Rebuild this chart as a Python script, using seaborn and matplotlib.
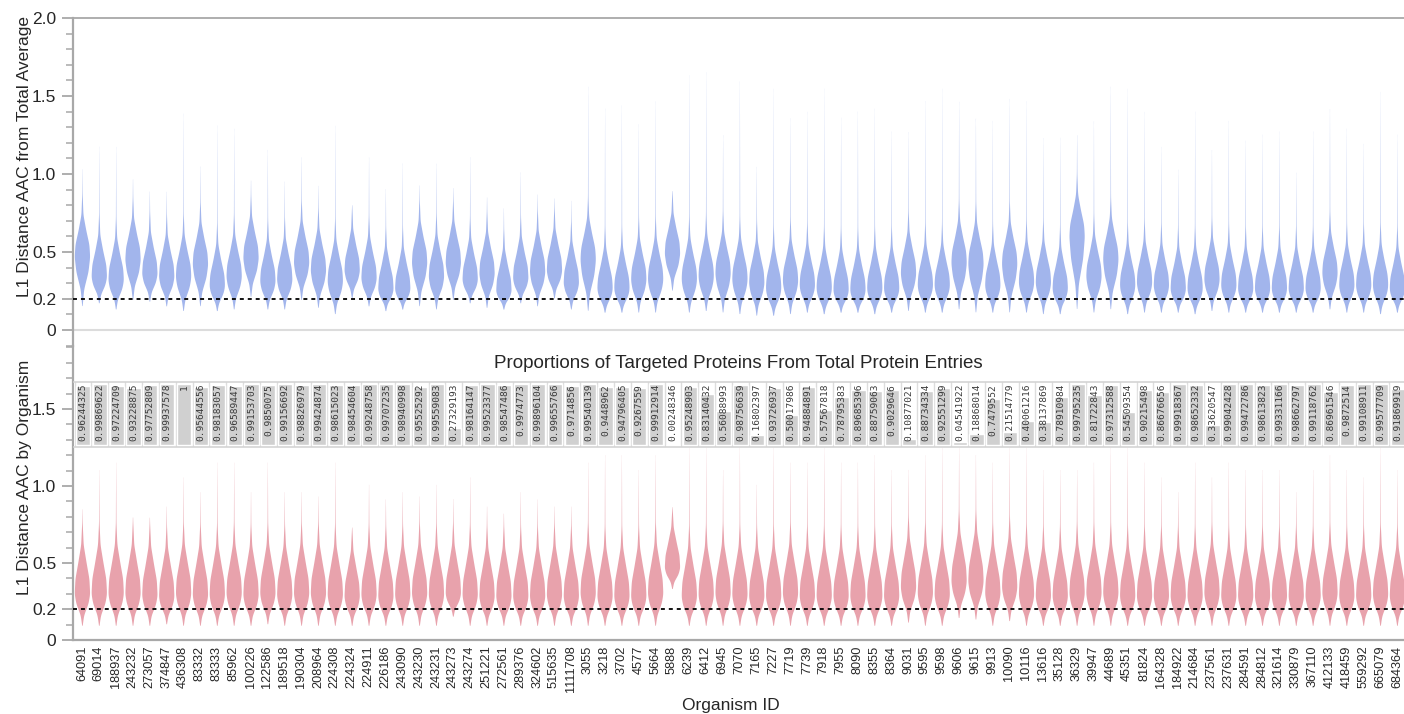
import matplotlib
matplotlib.use("Agg")
import numpy as np
import pandas as pd
import seaborn as sns
import matplotlib.pyplot as plt

# ---------------- data ----------------
organisms = ["64091", "69014", "188937", "243232", "273057", "374847", "436308", "83332", "83333", "85962",
             "100226", "122586", "189518", "190304", "208964", "224308", "224324", "224911", "226186", "243090",
             "243230", "243231", "243273", "243274", "251221", "272561", "289376", "324602", "515635", "1111708",
             "3055", "3218", "3702", "4577", "5664", "5888", "6239", "6412", "6945", "7070",
             "7165", "7227", "7719", "7739", "7918", "7955", "8090", "8355", "8364", "9031",
             "9595", "9598", "9606", "9615", "9913", "10090", "10116", "13616", "35128", "36329",
             "39947", "44689", "45351", "81824", "164328", "184922", "214684", "237561", "237631", "284591",
             "284812", "321614", "330879", "367110", "412133", "418459", "559292", "665079", "684364"]

proportions = [0.96244325, 0.99869622, 0.97224709, 0.93228875, 0.97752809, 0.99937578, 1.0, 0.95644556, 0.98183057, 0.96589447,
               0.99153703, 0.9850075, 0.99156692, 0.98826979, 0.99424874, 0.98615023, 0.98454604, 0.99248758, 0.99707235, 0.98940998,
               0.95525292, 0.99559083, 0.27329193, 0.98164147, 0.99523377, 0.98547486, 0.9974773, 0.99896104, 0.99655766, 0.9714856,
               0.99540139, 0.9448962, 0.94796405, 0.9267559, 0.99912914, 0.00248346, 0.95248903, 0.83140432, 0.56088993, 0.98756639,
               0.16802397, 0.93726937, 0.50017986, 0.94884891, 0.57567818, 0.78795383, 0.89685396, 0.88759063, 0.9029646, 0.10877021,
               0.88734334, 0.92551299, 0.04541922, 0.18868014, 0.7479552, 0.21514779, 0.40061216, 0.38137869, 0.78910984, 0.99795235,
               0.81722843, 0.97312588, 0.54509354, 0.90215498, 0.86676656, 0.99918367, 0.98652332, 0.33620547, 0.99042428, 0.99472786,
               0.98613823, 0.99331166, 0.98662797, 0.99118762, 0.86961546, 0.9872514, 0.99108911, 0.99577709, 0.91869919]

# distance from total average (top panel): widest point, lower tip, upper tip
top_mode = [0.47, 0.34, 0.32, 0.45, 0.36, 0.34, 0.34, 0.42, 0.28, 0.34,
            0.46, 0.31, 0.32, 0.43, 0.38, 0.31, 0.38, 0.33, 0.26, 0.26,
            0.43, 0.34, 0.43, 0.32, 0.36, 0.25, 0.33, 0.37, 0.38, 0.30,
            0.45, 0.26, 0.26, 0.32, 0.32, 0.49, 0.32, 0.34, 0.36, 0.32,
            0.30, 0.26, 0.31, 0.28, 0.26, 0.25, 0.25, 0.26, 0.26, 0.36,
            0.28, 0.28, 0.43, 0.42, 0.28, 0.42, 0.30, 0.30, 0.26, 0.60,
            0.34, 0.45, 0.28, 0.30, 0.28, 0.26, 0.26, 0.32, 0.28, 0.26,
            0.26, 0.26, 0.26, 0.26, 0.36, 0.28, 0.28, 0.28, 0.26]
top_low = [0.15, 0.17, 0.13, 0.19, 0.18, 0.15, 0.12, 0.15, 0.12, 0.13,
           0.21, 0.13, 0.13, 0.19, 0.14, 0.10, 0.20, 0.15, 0.12, 0.13,
           0.15, 0.13, 0.19, 0.17, 0.14, 0.13, 0.17, 0.15, 0.20, 0.13,
           0.12, 0.11, 0.11, 0.11, 0.11, 0.25, 0.11, 0.12, 0.11, 0.10,
           0.09, 0.09, 0.10, 0.11, 0.10, 0.11, 0.11, 0.10, 0.11, 0.12,
           0.11, 0.11, 0.13, 0.11, 0.11, 0.11, 0.11, 0.10, 0.10, 0.13,
           0.11, 0.13, 0.10, 0.11, 0.11, 0.11, 0.10, 0.12, 0.11, 0.11,
           0.11, 0.11, 0.11, 0.11, 0.13, 0.11, 0.11, 0.10, 0.11]
top_high = [1.07, 1.22, 1.22, 1.00, 0.92, 0.92, 1.44, 1.09, 1.36, 1.34,
            0.99, 1.20, 0.99, 1.15, 0.96, 1.36, 0.82, 1.15, 0.94, 1.11,
            0.96, 1.11, 0.94, 1.15, 0.88, 0.81, 1.05, 0.90, 0.87, 0.86,
            1.62, 1.47, 1.49, 1.37, 1.52, 0.91, 1.69, 1.71, 1.30, 1.65,
            1.09, 1.60, 1.41, 1.45, 1.60, 1.41, 1.45, 1.47, 1.32, 1.32,
            1.52, 1.60, 1.52, 1.41, 1.39, 1.54, 1.52, 1.28, 1.28, 1.30,
            1.39, 1.62, 1.60, 1.45, 1.22, 1.07, 1.45, 1.20, 1.39, 1.26,
            1.30, 1.32, 1.05, 1.32, 1.47, 1.34, 1.24, 1.58, 1.30]

# distance by organism (bottom panel)
bot_mode = [0.30, 0.30, 0.30, 0.30, 0.29, 0.28, 0.30, 0.29, 0.29, 0.30,
            0.29, 0.30, 0.29, 0.30, 0.30, 0.29, 0.28, 0.29, 0.28, 0.29,
            0.30, 0.29, 0.30, 0.29, 0.28, 0.28, 0.28, 0.28, 0.29, 0.28,
            0.30, 0.28, 0.28, 0.28, 0.30, 0.47, 0.28, 0.29, 0.30, 0.29,
            0.28, 0.28, 0.30, 0.28, 0.28, 0.28, 0.28, 0.28, 0.28, 0.34,
            0.30, 0.29, 0.38, 0.38, 0.30, 0.34, 0.29, 0.28, 0.28, 0.30,
            0.30, 0.30, 0.28, 0.28, 0.28, 0.28, 0.28, 0.30, 0.28, 0.28,
            0.28, 0.28, 0.28, 0.28, 0.30, 0.28, 0.28, 0.29, 0.28]
bot_low = [0.09, 0.09, 0.09, 0.09, 0.09, 0.10, 0.09, 0.09, 0.09, 0.09,
           0.09, 0.10, 0.09, 0.09, 0.09, 0.09, 0.09, 0.09, 0.09, 0.09,
           0.09, 0.09, 0.15, 0.09, 0.09, 0.09, 0.09, 0.09, 0.09, 0.09,
           0.09, 0.09, 0.09, 0.09, 0.09, 0.33, 0.09, 0.09, 0.09, 0.09,
           0.09, 0.09, 0.09, 0.09, 0.09, 0.09, 0.09, 0.09, 0.09, 0.11,
           0.09, 0.09, 0.14, 0.13, 0.09, 0.12, 0.09, 0.09, 0.09, 0.09,
           0.09, 0.09, 0.09, 0.09, 0.09, 0.09, 0.09, 0.09, 0.09, 0.09,
           0.09, 0.09, 0.09, 0.09, 0.09, 0.09, 0.09, 0.09, 0.09]
bot_high = [0.88, 1.15, 1.20, 0.82, 0.82, 0.90, 1.10, 1.00, 1.20, 1.20,
            1.00, 1.20, 1.00, 1.00, 0.97, 1.20, 0.75, 1.05, 0.95, 1.00,
            0.97, 1.05, 0.95, 1.10, 0.90, 0.85, 1.00, 0.95, 0.90, 0.90,
            1.20, 1.25, 1.25, 1.15, 1.25, 0.88, 1.30, 1.30, 1.15, 1.30,
            1.05, 1.30, 1.20, 1.20, 1.30, 1.20, 1.20, 1.25, 1.15, 1.15,
            1.25, 1.30, 1.30, 1.25, 1.20, 1.30, 1.30, 1.15, 1.15, 1.15,
            1.20, 1.30, 1.30, 1.20, 1.10, 1.00, 1.20, 1.10, 1.20, 1.15,
            1.15, 1.15, 1.00, 1.15, 1.25, 1.15, 1.10, 1.30, 1.15]

title = "Proportions of Targeted Proteins From Total Protein Entries"
top_ylabel = "L1 Distance AAC from Total Average"
bot_ylabel = "L1 Distance AAC by Organism"
xlabel = "Organism ID"

BLUE = "#a2b5ec"
PINK = "#e8a2ac"
BAR_GRAY = "#d0d0d0"

# ---------------- per-organism samples from the read summary values ----------------
N = 1000
PROBS = (np.arange(N) + 0.5) / N
LOW_F = [0.02, 0.22, 0.78, 1.0]          # relative width below the widest point
TOP_UP_OFF, TOP_UP_F = [0.08, 0.17, 0.27, 0.40], [0.9, 0.5, 0.13, 0.03]
BOT_UP_OFF, BOT_UP_F = [0.10, 0.20, 0.32, 0.46], [0.9, 0.55, 0.16, 0.035]


def samples(m, lo, hi, up_off, up_f):
    up = np.array(up_off)
    scale = min(1.0, 0.92 * (hi - m) / up[-1])
    xk = np.concatenate([[lo, lo + 0.35 * (m - lo), lo + 0.7 * (m - lo), m], m + up * scale, [hi]])
    fk = np.array(LOW_F + list(up_f) + [0.002])
    grid = np.linspace(lo, hi, 5000)
    f = np.interp(grid, xk, fk)
    cdf = np.concatenate([[0.0], np.cumsum((f[1:] + f[:-1]) / 2 * np.diff(grid))])
    cdf /= cdf[-1]
    return np.interp(PROBS, cdf, grid)


def long_frame(modes, lows, highs, up_off, up_f):
    rows_org, rows_val = [], []
    for org, m, lo, hi in zip(organisms, modes, lows, highs):
        v = samples(m, lo, hi, up_off, up_f)
        rows_org.extend([org] * len(v))
        rows_val.extend(v.tolist())
    return pd.DataFrame({"org": rows_org, "val": rows_val})


df_top = long_frame(top_mode, top_low, top_high, TOP_UP_OFF, TOP_UP_F)
df_bot = long_frame(bot_mode, bot_low, bot_high, BOT_UP_OFF, BOT_UP_F)
df_prop = pd.DataFrame({"org": organisms, "prop": proportions})

# ---------------- figure ----------------
sns.set_style("white")
plt.rcParams["font.family"] = ["Liberation Sans", "DejaVu Sans"]

W_PX, H_PX = 1404, 714
fig = plt.figure(figsize=(W_PX / 100, H_PX / 100), dpi=100)

left = 73 / W_PX
width = (W_PX - 73) / W_PX
ax_top = fig.add_axes([left, (H_PX - 345.6) / H_PX, width, (345.6 - 18) / H_PX])
ax_bot = fig.add_axes([left, (H_PX - 640) / H_PX, width, (640 - 345.6) / H_PX])
ax_band = fig.add_axes([left + 1 / W_PX, (H_PX - 446.5) / H_PX, width, 64.5 / H_PX])

XLIM = (-0.53, 78.42)
SPINE = "#a8a8a8"

vkw = dict(x="org", y="val", order=organisms, saturation=1, inner=None, linewidth=0,
           density_norm="width", cut=0, width=0.9, bw_adjust=0.45)
sns.violinplot(data=df_top, color=BLUE, ax=ax_top, **vkw)
sns.violinplot(data=df_bot, color=PINK, ax=ax_bot, **vkw)

for ax, ylim, yt, ytl in [
    (ax_top, (-0.1, 2.0), [0, 0.2, 0.5, 1.0, 1.5, 2.0], ["0", "0.2", "0.5", "1.0", "1.5", "2.0"]),
    (ax_bot, (0, 1.912), [0, 0.2, 0.5, 1.0, 1.5], ["0", "0.2", "0.5", "1.0", "1.5"]),
]:
    ax.set_xlim(*XLIM)
    ax.set_ylim(*ylim)
    ax.set_yticks(yt)
    ax.set_yticklabels(ytl)
    ax.set_yticks(np.round(np.arange(ylim[0], ylim[1] + 1e-9, 0.1), 2), minor=True)
    ax.tick_params(axis="y", which="both", left=True)
    ax.tick_params(axis="y", which="major", length=8, width=1.3, color=SPINE, labelsize=12.5, pad=4)
    ax.tick_params(axis="y", which="minor", length=5, width=1.1, color=SPINE)
    ax.axhline(0.2, color="black", lw=1.3, ls=(0, (2.2, 2.2)), zorder=6)
    ax.spines["right"].set_visible(False)
    ax.spines["left"].set_color(SPINE)
    ax.spines["left"].set_linewidth(1.6)
    ax.set_facecolor("none")

# top panel specifics
ax_top.axhline(0, color="#dcdcdc", lw=1.5, zorder=0)
ax_top.spines["bottom"].set_visible(False)
ax_top.spines["top"].set_color(SPINE)
ax_top.spines["top"].set_linewidth(1.3)
ax_top.set_xticks([])
ax_top.set_xlabel("")
ax_top.set_ylabel(top_ylabel, fontsize=12.5)
ax_top.yaxis.set_label_coords(-0.031, 0.576)

# bottom panel specifics
ax_bot.spines["top"].set_visible(False)
ax_bot.spines["bottom"].set_color(SPINE)
ax_bot.spines["bottom"].set_linewidth(1.6)
ax_bot.set_xticks(range(len(organisms)))
ax_bot.set_xticklabels(organisms, rotation=90, fontsize=9.2)
ax_bot.tick_params(axis="x", length=0, pad=4)
ax_bot.set_ylabel(bot_ylabel, fontsize=12.5)
ax_bot.yaxis.set_label_coords(-0.031, 0.554)
ax_bot.set_xlabel(xlabel, fontsize=12.5)
ax_bot.xaxis.set_label_coords(0.494, -0.197)

# proportions band
ax_band.set_facecolor("white")
sns.barplot(data=df_prop, x="org", y="prop", order=organisms, color=BAR_GRAY, saturation=1,
            width=0.84, ax=ax_band, errorbar=None)
ax_band.set_xlim(XLIM[0], XLIM[1])
ax_band.set_ylim(-0.02, 1.03)
for i in range(len(organisms) + 1):
    ax_band.axvline(i - 0.5, color="#dddddd", lw=1.0, zorder=0)
for i, p in enumerate(proportions):
    ax_band.text(i, 1.0, format(p, ".8g"), rotation=90, ha="center", va="top",
                 family="DejaVu Sans Mono", fontsize=6.8, color="#3a3a3a", zorder=5)
ax_band.set_xticks([])
ax_band.set_yticks([])
ax_band.set_xlabel("")
ax_band.set_ylabel("")
for s in ["left", "right"]:
    ax_band.spines[s].set_visible(False)
for s in ["top", "bottom"]:
    ax_band.spines[s].set_color("#d4d4d4")
    ax_band.spines[s].set_linewidth(1.2)

fig.text(738 / W_PX, 1 - 363 / H_PX, title, ha="center", va="center", fontsize=13.5)

fig.savefig("out.png", dpi=100)
